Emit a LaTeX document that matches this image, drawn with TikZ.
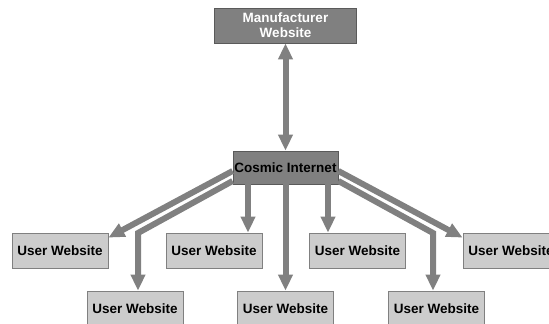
\documentclass[tikz,border=0pt]{standalone}
\usepackage{fontspec}
\setmainfont{Liberation Sans}
\usepackage{xcolor}
\usetikzlibrary{positioning, arrows.meta}
\definecolor{oscuro}{HTML}{808080}
\definecolor{borde}{HTML}{5A5A5A}
\definecolor{claro}{HTML}{CCCCCC}
\definecolor{flechagris}{HTML}{808080}

\begin{document}
\begin{tikzpicture}[x=1pt, y=-1pt,
		every node/.style={text=black, font=\fontsize{13.5}{15}\selectfont\bfseries, inner sep=0pt},
		grande/.style={rectangle, draw=borde, fill=oscuro, line width=0.8pt},
		peque/.style={rectangle, draw=oscuro, fill=claro, line width=0.8pt, minimum width=96pt, minimum height=35pt},
		flecha/.style={draw=flechagris, line width=6pt, -{Triangle[width=14pt,length=16pt]}}
		]
		\useasboundingbox (0,0) rectangle (549,324);
		
		% Nodos principales
		\node[grande, text=white, align=center, minimum width=142pt, minimum height=35pt] (man) at (285.5,25.5) {Manufacturer\\Website};
		\node[grande, minimum width=105pt, minimum height=33pt] (cosmic) at (285.5,167.5) {Cosmic Internet};
		
		% subnodos de usuario, fila superior
		\node[peque] (u1) at (60,250.5) {User Website};
		\node[peque] (u2) at (214,250.5) {User Website};
		\node[peque] (u3) at (357.5,250.5) {User Website};
		\node[peque] (u4) at (511,250.5) {User Website};
		
		% subnodos de usuario, fila inferior
		\node[peque] (u5) at (135,308.5) {User Website};
		\node[peque] (u6) at (285.5,308.5) {User Website};
		\node[peque] (u7) at (436.5,308.5) {User Website};
		
		% codos
		\coordinate (codoL) at (138,233);
		\coordinate (codoR) at (433,233);
		
		% flecha principal
		\draw[flecha, {Triangle[width=14pt,length=16pt]}-{Triangle[width=14pt,length=16pt]}] (man) -- (cosmic);
		
		% flechas de usuario
		\draw[flecha] ([yshift=-3.5pt]cosmic.west) -- ([yshift=-5pt]u1.north east);
		\draw[flecha] ([yshift=-13.5pt]cosmic.west) -- (codoL) -- (codoL |- u5.north);
		\draw[flecha] ([xshift=-37.5pt]cosmic.south) -- ([xshift=34pt]u2.north);
		\draw[flecha] (cosmic.south) -- (u6.north);
		\draw[flecha] ([xshift=42.5pt]cosmic.south) -- ([xshift=-29.5pt]u3.north);
		\draw[flecha] ([yshift=-3.5pt]cosmic.east) -- ([yshift=-5pt]u4.north west);
		\draw[flecha] ([yshift=-13.5pt]cosmic.east) -- (codoR) -- (codoR |- u7.north);
		
	\end{tikzpicture}
\end{document}
